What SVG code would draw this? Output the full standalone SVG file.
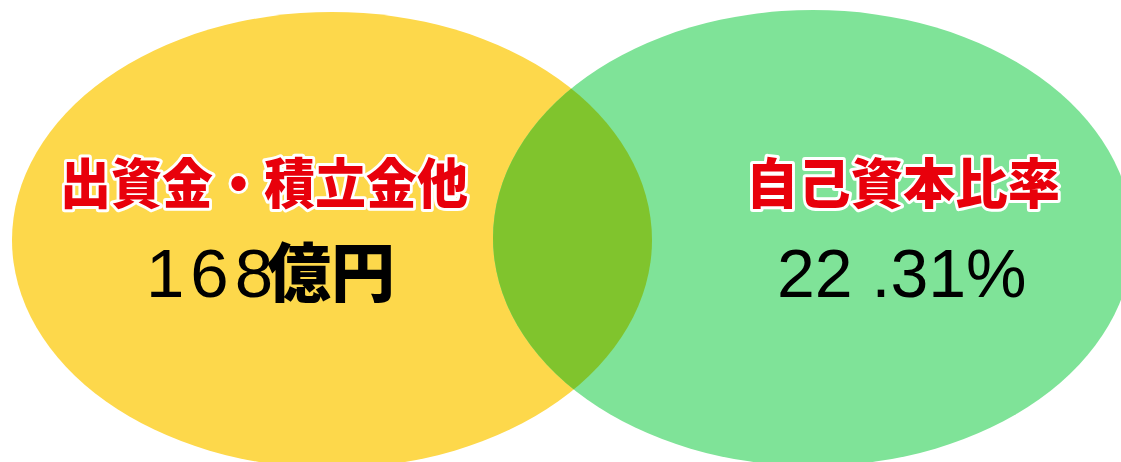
<svg xmlns="http://www.w3.org/2000/svg" width="1121" height="462" viewBox="0 0 1121 462">
<style>
.title{font-family:"Noto Sans CJK JP","Noto Sans CJK SC",sans-serif;font-weight:900;fill:#E8000B;stroke:#FFFFFF;stroke-width:6;stroke-linejoin:round;paint-order:stroke}
.num{font-family:"Liberation Sans",Arial,sans-serif;fill:#000000}
.unit{font-family:"Noto Sans CJK JP","Noto Sans CJK SC",sans-serif;font-weight:900;fill:#000000}
</style>
<defs>
<clipPath id="clipY"><ellipse cx="332" cy="240" rx="320" ry="228"/></clipPath>
</defs>
<rect width="1121" height="462" fill="#FFFFFF"/>
<g id="left-circle">
<ellipse cx="332" cy="240" rx="320" ry="228" fill="#FDD84B"/>
</g>
<g id="right-circle">
<ellipse cx="813" cy="238" rx="320" ry="228" fill="#7FE398"/>
</g>
<g id="overlap">
<ellipse cx="813" cy="238" rx="320" ry="228" fill="#80C42D" clip-path="url(#clipY)"/>
</g>
<g id="connectors"></g>
<g id="left-label">
<text class="title" x="60" y="204" font-size="54" textLength="408" lengthAdjust="spacingAndGlyphs">出資金・積立金他</text>
<text class="num" x="146" y="297" font-size="69" letter-spacing="6">168</text>
<text class="unit" x="267" y="296" font-size="64">億円</text>
</g>
<g id="right-label">
<text class="title" x="746" y="204" font-size="54" textLength="314" lengthAdjust="spacingAndGlyphs">自己資本比率</text>
<text class="num" x="777" y="297" font-size="68">22 .31%</text>
</g>
</svg>
